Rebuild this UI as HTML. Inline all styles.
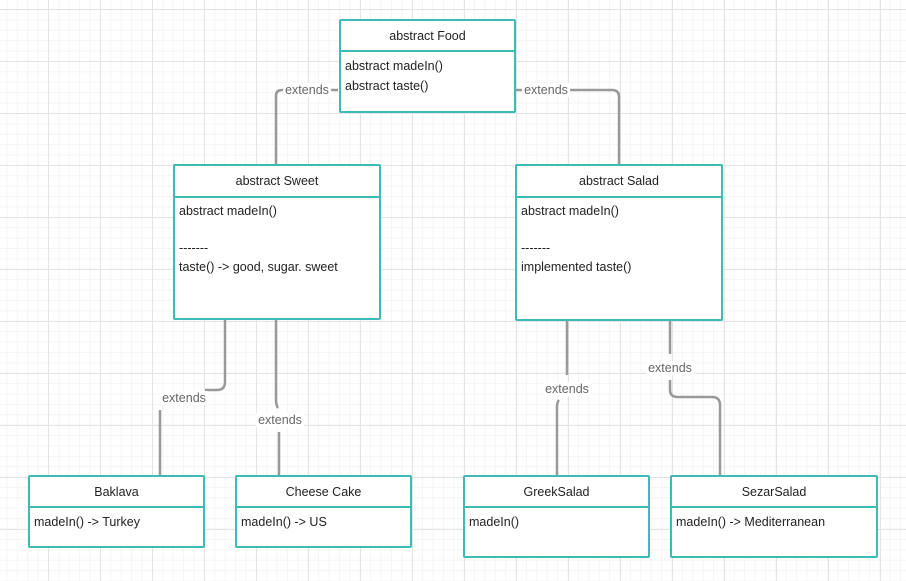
<!DOCTYPE html>
<html><head><style>
body{margin:0;width:906px;height:581px;overflow:hidden;background:#fff;
background-image:linear-gradient(#e4e4e4 1px,transparent 1px),linear-gradient(90deg,#e4e4e4 1px,transparent 1px),linear-gradient(#f5f5f5 1px,transparent 1px),linear-gradient(90deg,#f5f5f5 1px,transparent 1px);
background-size:52px 52px,52px 52px,10.4px 10.4px,10.4px 10.4px;background-position:48px 9px,48px 9px,48px 9px,48px 9px;font-family:"Liberation Sans",sans-serif;}
.b{position:absolute;border:2px solid #3ebbb5;background:#fff;box-sizing:border-box;border-radius:2px;color:#222;font-size:12.5px}
.h{border-bottom:2px solid #3ebbb5;text-align:center;box-sizing:border-box;display:flex;align-items:center;justify-content:center}
.c{padding:4px 4px;line-height:20px}
svg{position:absolute;left:0;top:0}
.l{position:absolute;font-size:12.5px;color:#666;background:#fff;transform:translate(-50%,-50%);padding:0 2px}
</style></head><body>
<svg width="906" height="581"><g fill="none" stroke="#999" stroke-width="2.5">
<path d="M276 164 V96 Q276 90 282 90 H338"/>
<path d="M516 90 H612 Q619 90 619 97 V164"/>
<path d="M225 320 V382 Q225 390 217 390 H205"/>
<path d="M160 410 V475"/>
<path d="M276 320 V400 Q276 405 278 408"/>
<path d="M279 432 V475"/>
<path d="M567 320 V375"/>
<path d="M557 475 V407 Q557 402 559 400"/>
<path d="M670 320 V354"/>
<path d="M670 380 V390 Q670 397 678 397 H712 Q720 397 720 405 V475"/>
</g></svg>
<div class="l" style="left:307px;top:90px">extends</div>
<div class="l" style="left:546px;top:90px">extends</div>
<div class="l" style="left:184px;top:398px">extends</div>
<div class="l" style="left:280px;top:420px">extends</div>
<div class="l" style="left:567px;top:389px">extends</div>
<div class="l" style="left:670px;top:368px">extends</div>

<div class="b" style="left:339px;top:19px;width:177px;height:94px"><div class="h" style="height:31px">abstract Food</div><div class="c">abstract madeIn()<br>abstract taste()</div></div>
<div class="b" style="left:173px;top:164px;width:208px;height:156px"><div class="h" style="height:32px">abstract Sweet</div><div class="c" style="line-height:18.5px">abstract madeIn()<br><br>-------<br>taste() -&gt; good, sugar. sweet</div></div>
<div class="b" style="left:515px;top:164px;width:208px;height:157px"><div class="h" style="height:32px">abstract Salad</div><div class="c" style="line-height:18.5px">abstract madeIn()<br><br>-------<br>implemented taste()</div></div>
<div class="b" style="left:28px;top:475px;width:177px;height:73px"><div class="h" style="height:31px">Baklava</div><div class="c">madeIn() -&gt; Turkey</div></div>
<div class="b" style="left:235px;top:475px;width:177px;height:73px"><div class="h" style="height:31px">Cheese Cake</div><div class="c">madeIn() -&gt; US</div></div>
<div class="b" style="left:463px;top:475px;width:187px;height:83px"><div class="h" style="height:31px">GreekSalad</div><div class="c">madeIn()</div></div>
<div class="b" style="left:670px;top:475px;width:208px;height:83px"><div class="h" style="height:31px">SezarSalad</div><div class="c">madeIn() -&gt; Mediterranean</div></div>
</body></html>
